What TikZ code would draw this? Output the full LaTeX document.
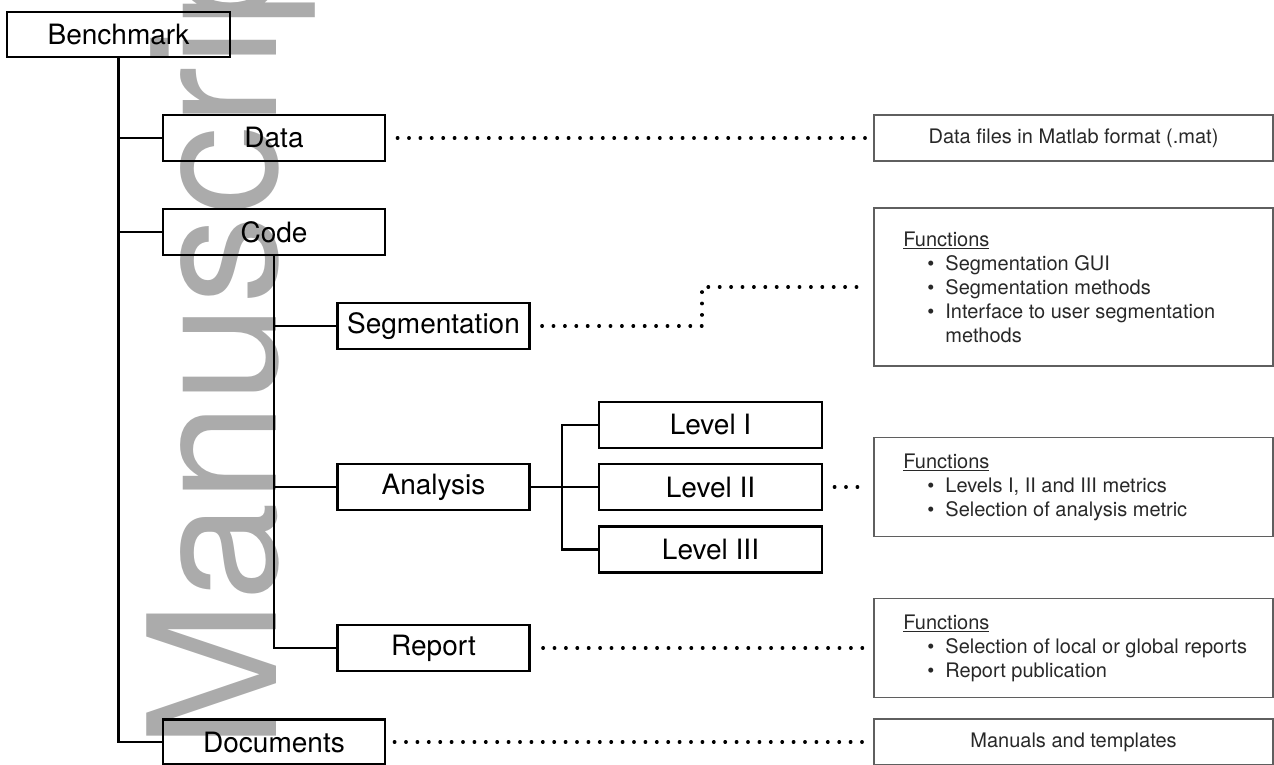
\documentclass[tikz,border=0pt]{standalone}
\usepackage{fontspec}
\setmainfont{TeX Gyre Heros}
\usepackage{xcolor}
\definecolor{wmgray}{RGB}{171,171,171}
\definecolor{fgray}{RGB}{95,95,95}
\definecolor{txtgray}{RGB}{40,40,40}
\newcommand{\fitem}[1]{\hspace*{24pt}\textbullet\hspace*{11pt}#1}
\newcommand{\fcont}[1]{\hspace*{24pt}\phantom{\textbullet}\hspace*{11pt}#1}

\begin{document}
\begin{tikzpicture}
		[x=1pt,y=-1pt, box/.style={draw, line width=2.6pt, minimum height=46pt, inner sep=0, font=\fontsize{28}{32}\selectfont}, wide/.style={box, minimum width=222pt}, mid/.style={box, minimum width=192pt}, fbox/.style={draw=fgray, line width=1.6pt, minimum width=399pt, inner sep=0, text=txtgray, font=\fontsize{20}{24}\selectfont}, ftext/.style={align=left, anchor=west, inner sep=0, text=txtgray, font=\fontsize{20}{24}\selectfont}, link/.style={line width=2.4pt}, dots/.style={line width=3.2pt, line cap=round, dash pattern=on 0.6pt off 10.8pt}]
		\useasboundingbox (0,0) rectangle (1274,765);
		\clip (0,0) rectangle (1274,765);
		% watermark
		\node[rotate=90, anchor=base west, inner sep=0, text=wmgray, font=\fontsize{178}{178}\selectfont] (wmark) at (276,750) {Manuscript};
		% tree
		\node[box, minimum width=223pt, minimum height=45pt] (bench) at (118.5,34.5) {Benchmark};
		\node[wide] (data) at (274,138) {Data};
		\node[wide] (code) at (274,232) {Code};
		\node[wide, minimum height=45pt] (docs) at (274,742) {Documents};
		\node[mid] (seg) at (433.5,326) {Segmentation};
		\node[mid] (ana) at (433.5,487) {Analysis};
		\node[mid] (rep) at (433.5,648) {Report};
		\node[box, minimum width=223pt] (l1) at (710.5,425) {Level I};
		\node[box, minimum width=223pt] (l2) at (710.5,487) {Level II};
		\node[box, minimum width=223pt] (l3) at (710.5,549.5) {Level III};
		\draw[link] (bench.south) |- (data.west);
		\draw[link] (bench.south) |- (code.west);
		\draw[link] (bench.south) |- (docs.west);
		\draw[link] (code.south) |- (seg.west);
		\draw[link] (code.south) |- (ana.west);
		\draw[link] (code.south) |- (rep.west);
		\draw[link] (ana.east) -- (l2.west);
		\draw[link] (l1.west) -| ([xshift=-36pt]l2.west) |- (l3.west);
		% descriptions
		\node[fbox, minimum height=46pt] (dataf) at (1073.5,138) {Data files in Matlab format (.mat)};
		\node[fbox, minimum height=158pt] (segf) at (1073.5,287) {};
		\node[fbox, minimum height=99pt] (anaf) at (1073.5,487) {};
		\node[fbox, minimum height=99pt] (repf) at (1073.5,648) {};
		\node[fbox, minimum height=46pt] (docf) at (1073.5,742) {Manuals and templates};
		\node[ftext] (segt) at ([xshift=30pt]segf.west) {\underline{Functions}\\ \fitem{Segmentation GUI}\\ \fitem{Segmentation methods}\\ \fitem{Interface to user segmentation}\\ \fcont{methods}};
		\node[ftext] (anat) at ([xshift=30pt]anaf.west) {\underline{Functions}\\ \fitem{Levels I, II and III metrics}\\ \fitem{Selection of analysis metric}};
		\node[ftext] (rept) at ([xshift=30pt]repf.west) {\underline{Functions}\\ \fitem{Selection of local or global reports}\\ \fitem{Report publication}};
		\coordinate (segbend) at (702,287);
		\draw[dots] ([xshift=11pt]data.east) -- ([xshift=-6pt]dataf.west);
		\draw[dots] ([xshift=11pt]seg.east) -| (segbend) -- ([xshift=-6pt]segf.west);
		\draw[dots] ([xshift=11pt]l2.east) -- ([xshift=-6pt]anaf.west);
		\draw[dots] ([xshift=12pt]rep.east) -- ([xshift=-6pt]repf.west);
		\draw[dots] ([xshift=8pt]docs.east) -- ([xshift=-6pt]docf.west);
	\end{tikzpicture}
\end{document}
